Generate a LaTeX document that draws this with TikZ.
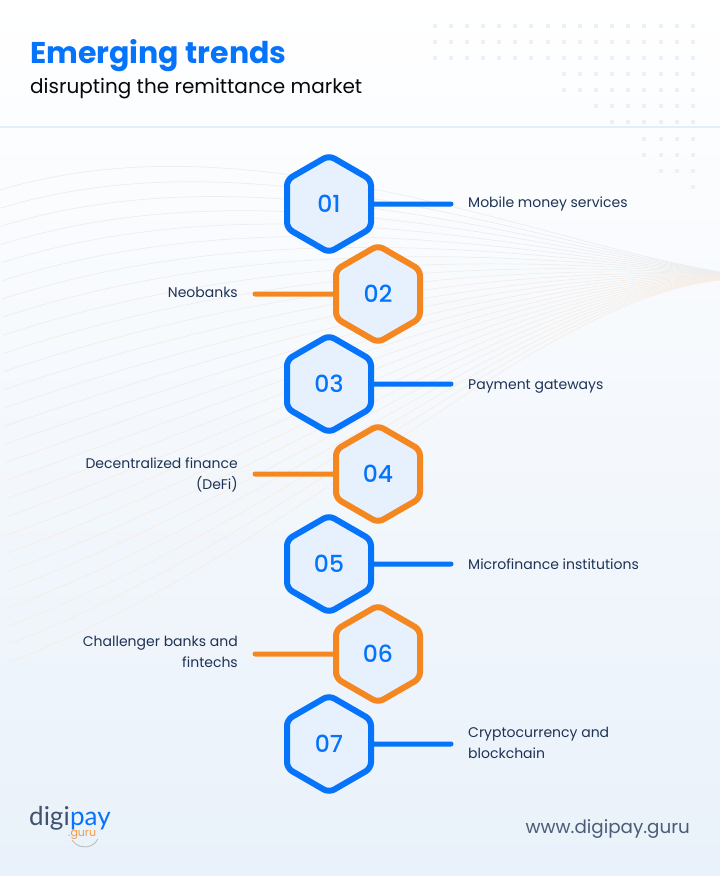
\documentclass[tikz,border=0pt]{standalone}
\usepackage{fontspec}
\usetikzlibrary{shapes.geometric}
\setmainfont{Poppins}
\newfontfamily\popmed{Poppins Medium}
\newfontfamily\logofont{Lato}
\definecolor{brandblue}{HTML}{0573FA}
\definecolor{brandorange}{HTML}{F58720}
\definecolor{hexfill}{HTML}{E6F1FD}
\definecolor{labelink}{HTML}{1E3355}
\definecolor{rulecol}{HTML}{E3EEFB}
\definecolor{dotcol}{HTML}{E9F1FB}
\definecolor{wavegray}{HTML}{EBEDF0}
\definecolor{wavepeach}{HTML}{F6EDE5}
\definecolor{bgbottom}{HTML}{E9F1FA}
\tikzset{
  hexbase/.style={shape=regular polygon,regular polygon sides=6,shape border rotate=30,
    minimum size=97pt,inner sep=0pt,outer sep=0pt,line width=6pt,rounded corners=6pt,
    fill=hexfill,text=brandblue,font=\popmed\fontsize{23.5}{26}\selectfont},
  hexblue/.style={hexbase,draw=brandblue},
  hexorange/.style={hexbase,draw=brandorange},
  linkblue/.style={draw=brandblue,line width=5pt,line cap=round},
  linkorange/.style={draw=brandorange,line width=5pt,line cap=round},
  labelr/.style={anchor=base west,align=left,text=labelink,font=\fontsize{14}{21}\selectfont,inner sep=0pt},
  labell/.style={anchor=base east,align=right,text=labelink,font=\fontsize{14}{21}\selectfont,inner sep=0pt},
}
\begin{document}
\begin{tikzpicture}[x=1pt,y=-1pt]
\useasboundingbox (0,0) rectangle (720,876);
\shade[top color=white,bottom color=bgbottom] (0,0) rectangle (720,876);
% wave lines
\foreach \i in {0,...,26}{
  \pgfmathsetmacro{\t}{\i/26}
  \pgfmathsetmacro{\pc}{min(100,\t*130)}
  \draw[line width=0.7pt,color=wavepeach!\pc!wavegray]
    ({10*\t},{190+472*\t})
    .. controls ({250+50*\t},{115+435*\t}) and ({530},{240+60*\t}) .. (720,{272+8*\t});
}
% dot grid
\foreach \r/\cs in {0/0,1/0,2/0,3/8,4/8,5/10,6/11,7/13,8/13,9/14,10/16}{
  \foreach \c in {\cs,...,16}{
    \fill[dotcol] ({434.7+16.13*\c-2},{25.7+16.13*\r-2}) rectangle ++(4,4);
  }
}
% header
\draw[rulecol,line width=1.5pt] (0,127) -- (720,127);
\node[anchor=base west,inner sep=0pt,text=brandblue,font=\bfseries\fontsize{30}{34}\selectfont] (title) at (30,63) {Emerging trends};
\node[anchor=base west,inner sep=0pt,text=black!85!labelink,font=\fontsize{20}{24}\selectfont] (subtitle) at (30,93) {disrupting the remittance market};
% hexagons
\node[hexblue] (h1) at (329,204) {01};
\node[hexorange] (h2) at (378,294) {02};
\node[hexblue] (h3) at (329,384) {03};
\node[hexorange] (h4) at (378,474) {04};
\node[hexblue] (h5) at (329,564) {05};
\node[hexorange] (h6) at (378,654) {06};
\node[hexblue] (h7) at (329,744) {07};
% free ends
\coordinate (e1) at (451,204);
\coordinate (e2) at (255,294);
\coordinate (e3) at (451,384);
\coordinate (e4) at (255,474);
\coordinate (e5) at (451,564);
\coordinate (e6) at (255,654);
\coordinate (e7) at (451,744);
\draw[linkblue] (h1.east) -- (e1);
\draw[linkorange] (h2.west) -- (e2);
\draw[linkblue] (h3.east) -- (e3);
\draw[linkorange] (h4.west) -- (e4);
\draw[linkblue] (h5.east) -- (e5);
\draw[linkorange] (h6.west) -- (e6);
\draw[linkblue] (h7.east) -- (e7);
% labels
\node[labelr] (l1) at (468,207) {Mobile money services};
\node[labell] (l2) at (238,297) {Neobanks};
\node[labelr] (l3) at (468,389) {Payment gateways};
\node[labell] (l4) at (238,489) {Decentralized finance\\(DeFi)};
\node[labelr] (l5) at (468,569) {Microfinance institutions};
\node[labell] (l6) at (238,667) {Challenger banks and\\fintechs};
\node[labelr] (l7) at (468,758) {Cryptocurrency and\\blockchain};
% logo
\node[anchor=base west,inner sep=0pt,text=labelink!85!white,font=\logofont\fontsize{26}{30}\selectfont] (digi) at (29,825) {digi};
\node[anchor=base west,inner sep=0pt,text=brandblue,font=\logofont\fontsize{26}{30}\selectfont] (pay) at (digi.base east) {pay};
\draw[black!30,line width=0.7pt] (72,840) arc[start angle=205,end angle=340,x radius=14,y radius=-12];
\node[anchor=base west,inner sep=0pt,text=brandorange!85!white,font=\fontsize{11}{12}\selectfont] (guru) at (68,836) {.guru};
\node[anchor=base east,inner sep=0pt,text=labelink!80!white,font=\fontsize{18.3}{20}\selectfont] (web) at (690,833) {www.digipay.guru};
\end{tikzpicture}
\end{document}
